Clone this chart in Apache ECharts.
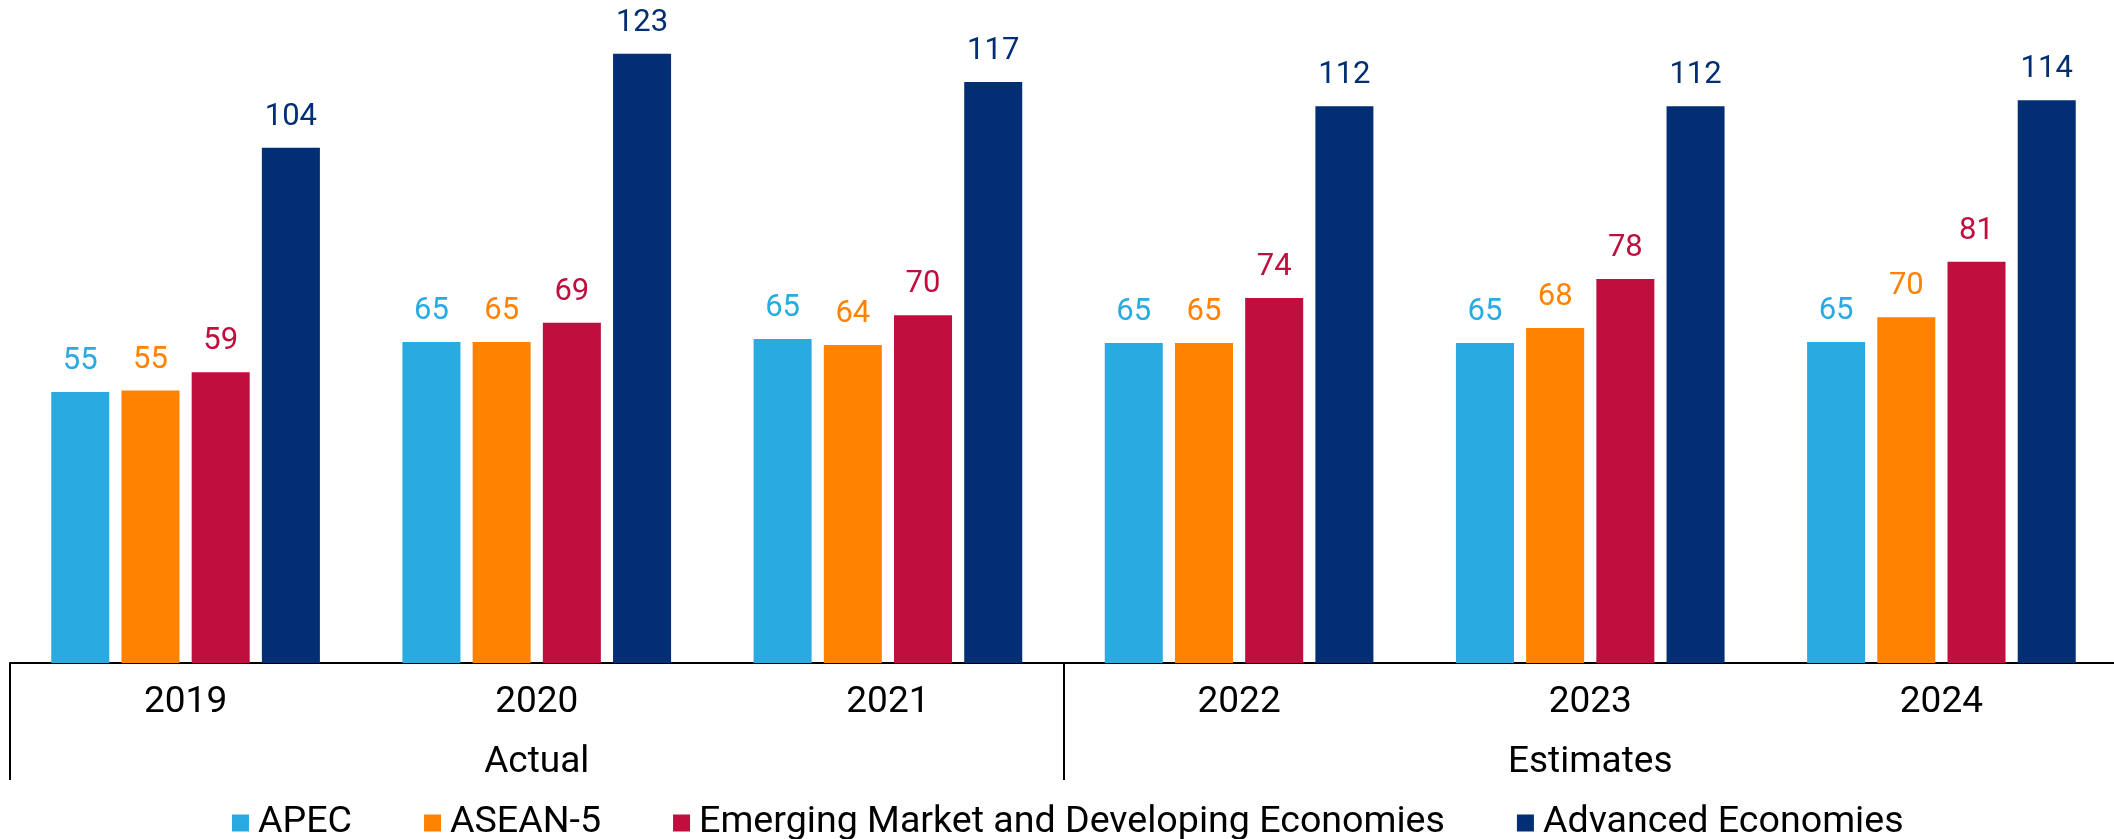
<!DOCTYPE html>
<html>
<head>
<meta charset="utf-8">
<script src="https://cdn.jsdelivr.net/npm/echarts@6/dist/echarts.min.js"></script>
<style>
    html, body { margin: 0; padding: 0; background: #fff; overflow: hidden; }
    #chart { width: 2120px; height: 839px; }
</style>
</head>
<body>
<div id="chart"></div>
<script>
// years and the two period groups under them
const years = ['2019', '2020', '2021', '2022', '2023', '2024']
const periods = ['', 'Actual', '', '', 'Estimates', '']

const seriesNames = ['APEC', 'ASEAN-5', 'Emerging Market and Developing Economies', 'Advanced Economies']
const colors = ['#29AAE1', '#FF8200', '#C00F3E', '#022E73']

const apec = [54.7, 64.8, 65.4, 64.6, 64.6, 64.8]
const asean5 = [55.0, 64.8, 64.2, 64.6, 67.6, 69.8]
const emde = [58.7, 68.7, 70.2, 73.7, 77.5, 81.0]
const advanced = [104.0, 123.0, 117.3, 112.4, 112.4, 113.6]

const values = [apec, asean5, emde, advanced]

const font = 'Roboto'

const myChart = echarts.init(document.getElementById('chart'))

const series = seriesNames.map((name, i) => ({
    name,
    type: 'bar',
    data: values[i],
    xAxisIndex: 0,
    barGap: '21%',
    barCategoryGap: '23.5%',
    itemStyle: { color: colors[i] },
    label: {
        show: true,
        position: 'top',
        distance: 15,
        color: colors[i],
        fontFamily: font,
        fontSize: 31,
        formatter: (p) => Math.round(p.value),
    },
}))

const options = {
    animation: false,
    backgroundColor: '#fff',
    textStyle: { fontFamily: font },
    // canvas is a bit wider than the window so the last divider falls outside it
    grid: { left: 10, right: 3, top: 19, bottom: 176, containLabel: false },
    legend: {
        data: seriesNames,
        left: 227,
        top: 799,
        icon: 'rect',
        itemWidth: 17,
        itemHeight: 17,
        itemGap: 72,
        textStyle: { fontFamily: font, fontSize: 37.6, color: '#000', padding: [0, 0, 0, 4] },
    },
    xAxis: [
        {
            type: 'category',
            data: years,
            position: 'bottom',
            axisLine: { lineStyle: { color: '#000', width: 2 } },
            axisTick: { show: false },
            axisLabel: { margin: 21, fontFamily: font, fontSize: 37, color: '#000' },
        },
        {
            type: 'category',
            data: periods,
            position: 'bottom',
            axisLine: { show: false },
            axisTick: {
                show: true,
                length: 117,
                interval: (i) => i === 0 || i === 3,
                lineStyle: { color: '#000', width: 2 },
            },
            axisLabel: { margin: 81, interval: 0, fontFamily: font, fontSize: 37, color: '#000' },
        },
    ],
    yAxis: {
        type: 'value',
        min: 0,
        max: 130,
        show: false,
        splitLine: { show: false },
    },
    series,
}

myChart.setOption(options)
</script>
</body>
</html>
